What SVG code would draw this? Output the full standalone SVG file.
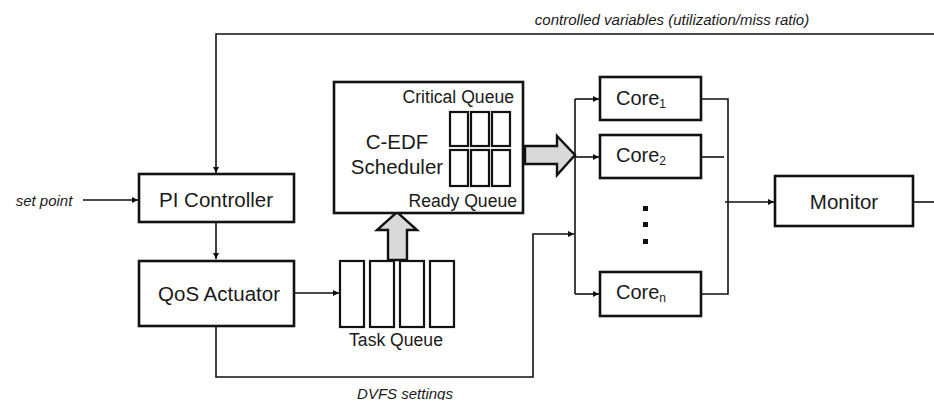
<svg xmlns="http://www.w3.org/2000/svg" width="934" height="400" viewBox="0 0 934 400">
<style>
.box{fill:#fff;stroke:#111;stroke-width:2.6}
.cell{fill:#fff;stroke:#111;stroke-width:2.2}
.blk{fill:#d9d9d9;stroke:#111;stroke-width:2.4;stroke-linejoin:miter}
.ln{fill:none;stroke:#111;stroke-width:1.6}
.ar{fill:none;stroke:#111;stroke-width:1.6;marker-end:url(#ah)}
.t{font-family:"Liberation Sans",Arial,sans-serif;fill:#1a1a1a;text-anchor:middle;dominant-baseline:central}
.big{font-size:20.5px}
.mid{font-size:17.6px}
.it{font-size:15px;font-style:italic}
.dot{fill:#111}
</style>
<defs>
<marker id="ah" viewBox="0 0 10 10" refX="10" refY="5" markerWidth="6" markerHeight="6" markerUnits="userSpaceOnUse" orient="auto">
<path d="M0,0 L10,5 L0,10 z" fill="#111"/>
</marker>
</defs>

<g id="connectors">
<polyline class="ar" points="934,34 216,34 216,173"/>
<line class="ar" x1="83" y1="200" x2="138" y2="200"/>
<line class="ar" x1="216" y1="223" x2="216" y2="259"/>
<line class="ar" x1="294" y1="293" x2="339" y2="293"/>
<polyline class="ar" points="216,327 216,377 533,377 533,234 574,234"/>
<line class="ln" x1="575" y1="99" x2="575" y2="294"/>
<line class="ar" x1="575" y1="99" x2="599" y2="99"/>
<line class="ar" x1="575" y1="157" x2="599" y2="157"/>
<line class="ar" x1="575" y1="294" x2="599" y2="294"/>
<polyline class="ln" points="701,99 728,99 728,294 701,294"/>
<line class="ln" x1="701" y1="157" x2="724" y2="157"/>
<line class="ar" x1="725" y1="202" x2="774" y2="202"/>
<line class="ln" x1="913" y1="202" x2="934" y2="202"/>
<polygon class="blk" points="525,146 557,146 557,136 575,155 557,175 557,164 525,164"/>
<polygon class="blk" points="388,260 388,230 377,230 397,212 417,230 407,230 407,260"/>
</g>

<g id="label-controlled">
<text class="t it" x="672" y="19">controlled variables (utilization/miss ratio)</text>
</g>
<g id="label-setpoint">
<text class="t it" x="44" y="200">set point</text>
</g>
<g id="label-dvfs">
<text class="t it" x="405" y="393">DVFS settings</text>
</g>

<g id="pi-controller">
<rect class="box" x="139" y="174" width="155" height="48"/>
<text class="t big" x="216" y="199">PI Controller</text>
</g>

<g id="qos-actuator">
<rect class="box" x="139" y="261" width="155" height="65"/>
<text class="t big" x="219" y="293">QoS Actuator</text>
</g>

<g id="task-queue">
<rect class="cell" x="340" y="261" width="24" height="66"/>
<rect class="cell" x="370" y="261" width="24" height="66"/>
<rect class="cell" x="400" y="261" width="24" height="66"/>
<rect class="cell" x="430" y="261" width="24" height="66"/>
<text class="t mid" x="396" y="340">Task Queue</text>
</g>

<g id="scheduler">
<rect class="box" x="334" y="82" width="189" height="131"/>
<text class="t mid" x="514" y="97" style="text-anchor:end">Critical Queue</text>
<text class="t mid" x="517" y="201" style="text-anchor:end">Ready Queue</text>
<text class="t big" x="397" y="141">C-EDF</text>
<text class="t big" x="397" y="166">Scheduler</text>
<rect class="cell" x="450" y="112" width="18" height="34"/>
<rect class="cell" x="471" y="112" width="18" height="34"/>
<rect class="cell" x="492" y="112" width="18" height="34"/>
<rect class="cell" x="450" y="150" width="18" height="36"/>
<rect class="cell" x="471" y="150" width="18" height="36"/>
<rect class="cell" x="492" y="150" width="18" height="36"/>
</g>

<g id="core1">
<rect class="box" x="600" y="77" width="101" height="43"/>
<text class="t big" x="641" y="98" style="font-size:20px">Core<tspan font-size="12" dy="6">1</tspan></text>
</g>
<g id="core2">
<rect class="box" x="600" y="135" width="101" height="43"/>
<text class="t big" x="641" y="155" style="font-size:20px">Core<tspan font-size="12" dy="6">2</tspan></text>
</g>
<g id="dots">
<rect class="dot" x="643" y="206" width="5" height="5"/>
<rect class="dot" x="643" y="222" width="5" height="5"/>
<rect class="dot" x="643" y="239" width="5" height="5"/>
</g>
<g id="coren">
<rect class="box" x="600" y="272" width="101" height="44"/>
<text class="t big" x="641" y="292" style="font-size:20px">Core<tspan font-size="12" dy="6">n</tspan></text>
</g>

<g id="monitor">
<rect class="box" x="775" y="176" width="138" height="50"/>
<text class="t big" x="844" y="201">Monitor</text>
</g>
</svg>
